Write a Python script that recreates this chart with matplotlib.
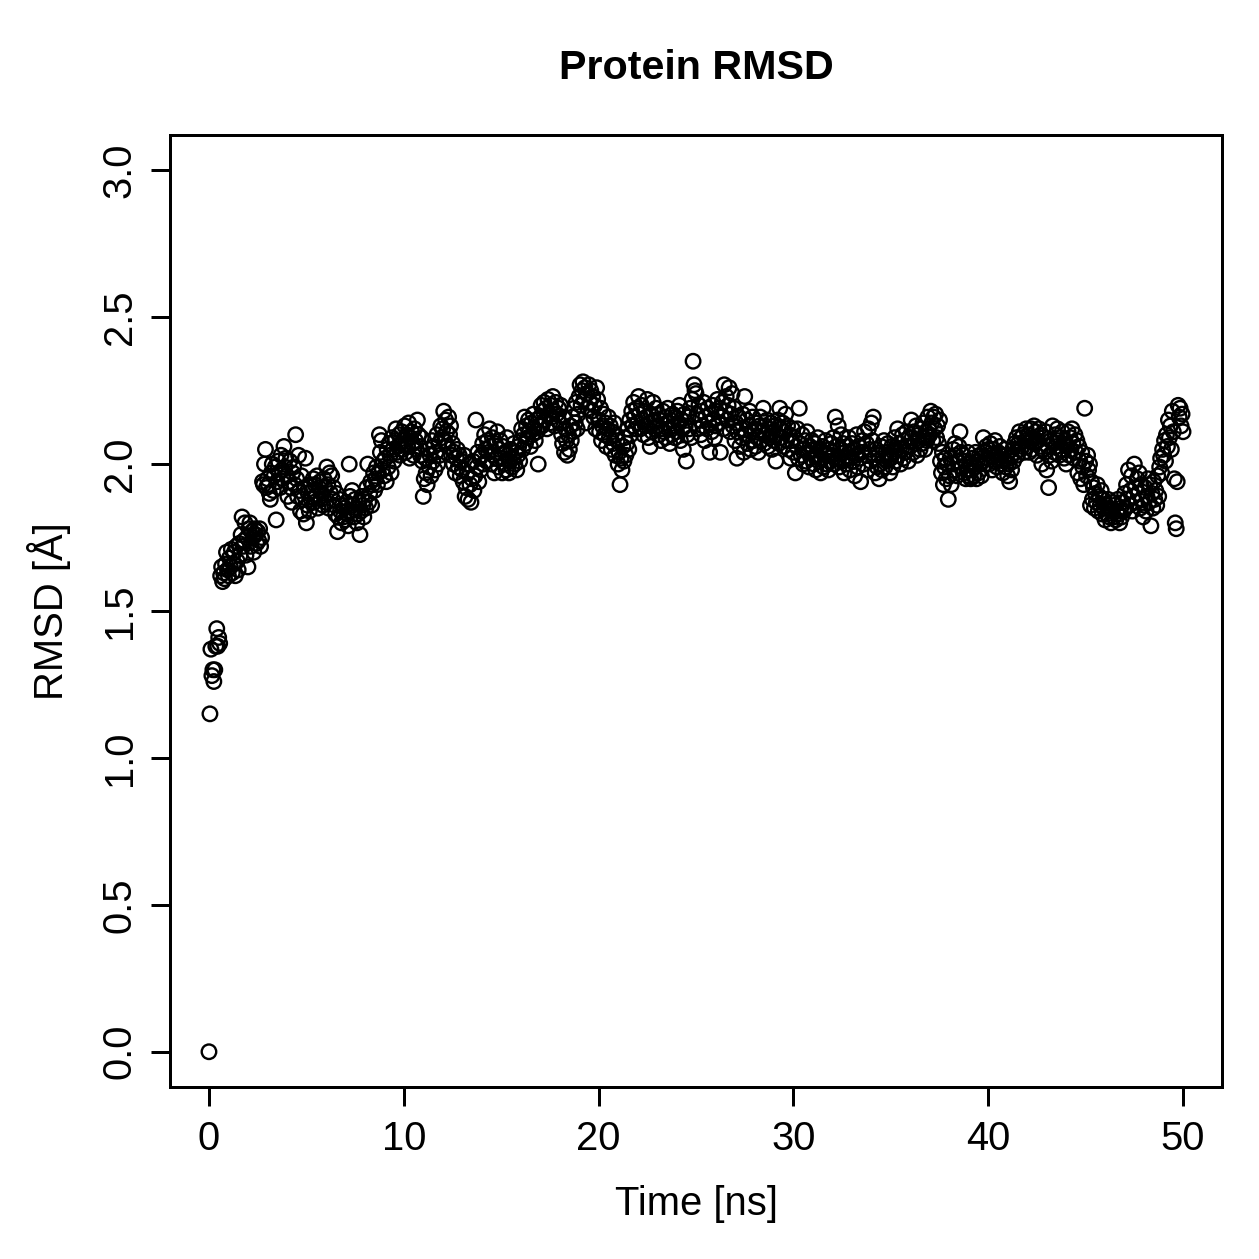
import numpy as np
import matplotlib
matplotlib.use("Agg")
import matplotlib.pyplot as plt

plt.rcParams['font.family'] = ['Liberation Sans', 'DejaVu Sans']

# RMSD values, one row per ns (0.05 ns steps)
rmsd_rows = [
    [0.00, 1.15, 1.37, 1.28, 1.30, 1.26, 1.30, 1.38, 1.44, 1.38, 1.41, 1.39, 1.62, 1.65, 1.60, 1.63, 1.61, 1.66, 1.70, 1.64],
    [1.62, 1.68, 1.65, 1.71, 1.63, 1.66, 1.70, 1.62, 1.72, 1.67, 1.64, 1.73, 1.69, 1.76, 1.82, 1.72, 1.74, 1.80, 1.69, 1.75],
    [1.65, 1.78, 1.80, 1.72, 1.77, 1.75, 1.70, 1.78, 1.76, 1.73, 1.77, 1.74, 1.78, 1.72, 1.75, 1.94, 1.93, 2.00, 2.05, 1.92],
    [1.95, 1.93, 1.90, 1.88, 1.97, 2.00, 1.91, 1.96, 1.99, 1.81, 1.94, 2.01, 1.97, 1.92, 2.03, 1.98, 1.95, 2.06, 1.99, 2.02],
    [1.96, 1.89, 1.94, 2.01, 1.92, 1.87, 1.97, 1.99, 1.93, 2.10, 1.95, 1.89, 2.03, 1.91, 1.84, 1.96, 1.88, 1.83, 1.92, 2.02],
    [1.80, 1.86, 1.90, 1.84, 1.93, 1.88, 1.91, 1.95, 1.87, 1.93, 1.89, 1.96, 1.85, 1.92, 1.94, 1.88, 1.90, 1.86, 1.95, 1.92],
    [1.87, 1.99, 1.93, 1.85, 1.97, 1.90, 1.96, 1.88, 1.92, 1.86, 1.83, 1.90, 1.77, 1.82, 1.88, 1.84, 1.80, 1.86, 1.82, 1.85],
    [1.81, 1.87, 1.83, 1.79, 2.00, 1.89, 1.84, 1.91, 1.86, 1.82, 1.88, 1.85, 1.80, 1.83, 1.87, 1.76, 1.84, 1.89, 1.86, 1.82],
    [1.88, 1.85, 1.92, 2.00, 1.87, 1.90, 1.94, 1.86, 1.93, 1.97, 1.91, 1.95, 1.99, 1.93, 1.97, 2.10, 2.04, 2.08, 1.98, 2.01],
    [1.96, 2.02, 1.94, 2.05, 1.99, 2.07, 2.03, 1.97, 2.09, 2.05, 2.01, 2.08, 2.12, 2.04, 2.06, 2.10, 2.03, 2.07, 2.11, 2.05],
    [2.08, 2.13, 2.04, 2.10, 2.06, 2.14, 2.02, 2.09, 2.11, 2.07, 2.03, 2.12, 2.08, 2.05, 2.15, 2.10, 2.06, 2.03, 2.09, 2.01],
    [1.89, 1.95, 2.02, 1.97, 1.93, 2.05, 1.99, 2.03, 1.96, 2.08, 2.01, 2.06, 1.98, 2.04, 2.10, 2.00, 2.07, 2.03, 2.13, 2.09],
    [2.12, 2.18, 2.08, 2.15, 2.11, 2.06, 2.16, 2.10, 2.13, 2.03, 2.07, 2.00, 2.04, 1.97, 2.02, 2.05, 1.99, 2.03, 1.96, 2.01],
    [1.98, 1.94, 2.03, 1.89, 1.92, 1.97, 1.88, 2.00, 1.93, 1.87, 1.95, 2.01, 1.91, 1.96, 2.15, 1.99, 2.04, 1.94, 2.02, 1.98],
    [2.03, 2.07, 2.00, 2.10, 2.05, 2.01, 2.08, 2.04, 2.12, 2.06, 2.00, 2.09, 2.03, 1.97, 2.07, 2.02, 2.11, 1.99, 2.05, 2.08],
    [2.02, 1.97, 2.06, 2.00, 2.04, 1.98, 2.09, 2.03, 1.97, 2.01, 2.05, 1.99, 2.02, 2.07, 2.00, 2.04, 1.98, 2.03, 2.06, 2.01],
    [2.08, 2.12, 2.05, 2.10, 2.16, 2.07, 2.13, 2.09, 2.15, 2.11, 2.06, 2.14, 2.10, 2.17, 2.12, 2.08, 2.15, 2.11, 2.00, 2.13],
    [2.16, 2.20, 2.13, 2.18, 2.21, 2.15, 2.19, 2.12, 2.22, 2.17, 2.14, 2.20, 2.16, 2.23, 2.18, 2.13, 2.21, 2.17, 2.15, 2.19],
    [2.14, 2.20, 2.10, 2.07, 2.16, 2.04, 2.12, 2.08, 2.03, 2.10, 2.05, 2.13, 2.08, 2.16, 2.11, 2.19, 2.14, 2.21, 2.12, 2.17],
    [2.23, 2.27, 2.20, 2.25, 2.28, 2.22, 2.26, 2.14, 2.24, 2.19, 2.27, 2.21, 2.25, 2.18, 2.23, 2.16, 2.20, 2.12, 2.26, 2.22],
    [2.15, 2.11, 2.19, 2.08, 2.13, 2.17, 2.10, 2.14, 2.06, 2.12, 2.16, 2.09, 2.13, 2.05, 2.11, 2.07, 2.14, 2.03, 2.10, 2.08],
    [2.00, 2.04, 1.93, 2.02, 1.98, 2.06, 2.01, 2.09, 2.03, 2.07, 2.12, 2.05, 2.15, 2.10, 2.18, 2.13, 2.21, 2.16, 2.12, 2.19],
    [2.14, 2.23, 2.17, 2.12, 2.20, 2.15, 2.10, 2.18, 2.13, 2.16, 2.22, 2.09, 2.14, 2.06, 2.17, 2.11, 2.21, 2.15, 2.12, 2.19],
    [2.13, 2.17, 2.10, 2.15, 2.08, 2.12, 2.18, 2.11, 2.16, 2.09, 2.14, 2.19, 2.12, 2.07, 2.15, 2.10, 2.17, 2.13, 2.09, 2.16],
    [2.11, 2.18, 2.14, 2.20, 2.08, 2.15, 2.12, 2.05, 2.17, 2.13, 2.01, 2.10, 2.16, 2.12, 2.19, 2.09, 2.22, 2.35, 2.27, 2.25],
    [2.24, 2.17, 2.12, 2.20, 2.15, 2.10, 2.18, 2.13, 2.21, 2.08, 2.16, 2.12, 2.19, 2.14, 2.04, 2.17, 2.11, 2.20, 2.15, 2.09],
    [2.13, 2.18, 2.22, 2.14, 2.19, 2.04, 2.16, 2.21, 2.12, 2.27, 2.18, 2.23, 2.15, 2.20, 2.26, 2.11, 2.17, 2.24, 2.13, 2.19],
    [2.08, 2.14, 2.02, 2.11, 2.16, 2.06, 2.12, 2.09, 2.17, 2.04, 2.23, 2.10, 2.15, 2.07, 2.13, 2.18, 2.05, 2.11, 2.16, 2.08],
    [2.12, 2.06, 2.14, 2.09, 2.04, 2.13, 2.16, 2.08, 2.11, 2.19, 2.07, 2.13, 2.10, 2.15, 2.06, 2.12, 2.09, 2.14, 2.05, 2.11],
    [2.08, 2.13, 2.01, 2.10, 2.15, 2.07, 2.19, 2.12, 2.09, 2.14, 2.06, 2.11, 2.17, 2.08, 2.13, 2.05, 2.10, 2.02, 2.08, 2.12],
    [2.04, 2.09, 1.97, 2.06, 2.12, 2.02, 2.19, 2.07, 2.03, 2.10, 2.00, 2.05, 2.08, 2.01, 2.11, 2.04, 1.99, 2.06, 2.02, 2.08],
    [2.05, 2.00, 2.07, 1.98, 2.03, 2.09, 2.01, 2.05, 1.97, 2.02, 2.06, 1.99, 2.04, 2.08, 2.00, 2.03, 1.98, 2.05, 2.01, 2.07],
    [2.03, 2.09, 2.00, 2.16, 2.06, 2.02, 2.13, 1.99, 2.05, 2.10, 2.01, 2.07, 1.97, 2.04, 2.00, 2.06, 2.02, 2.09, 1.98, 2.04],
    [2.07, 2.01, 2.05, 1.96, 2.03, 2.10, 1.99, 2.06, 2.02, 1.94, 2.04, 2.08, 2.00, 2.11, 2.03, 2.07, 1.98, 2.12, 2.05, 2.01],
    [2.14, 2.08, 2.16, 2.02, 1.97, 2.05, 1.99, 2.03, 1.95, 2.00, 2.06, 1.98, 2.02, 2.08, 1.99, 2.04, 2.01, 2.07, 2.03, 1.97],
    [2.02, 2.06, 1.99, 2.04, 2.09, 2.01, 2.05, 2.12, 2.03, 2.07, 2.00, 2.05, 2.10, 2.02, 2.08, 2.04, 2.11, 2.06, 2.01, 2.09],
    [2.06, 2.15, 2.09, 2.04, 2.11, 2.07, 2.13, 2.03, 2.08, 2.10, 2.05, 2.12, 2.07, 2.14, 2.09, 2.05, 2.11, 2.08, 2.16, 2.12],
    [2.10, 2.18, 2.14, 2.08, 2.16, 2.12, 2.17, 2.09, 2.13, 2.07, 2.15, 2.01, 1.97, 2.04, 1.93, 1.99, 2.02, 1.95, 2.00, 1.88],
    [1.96, 2.02, 1.93, 2.00, 2.05, 1.98, 2.07, 2.03, 1.96, 2.01, 2.06, 2.11, 2.04, 1.99, 2.03, 1.97, 2.01, 1.95, 1.98, 2.04],
    [1.96, 2.00, 1.95, 1.98, 2.02, 1.96, 1.99, 2.04, 1.95, 2.01, 1.97, 2.03, 2.00, 1.96, 2.02, 2.09, 2.04, 2.00, 2.06, 2.02],
    [2.05, 2.00, 2.07, 2.03, 1.98, 2.05, 2.01, 2.08, 2.03, 1.99, 2.04, 2.02, 2.06, 2.00, 2.03, 1.97, 2.01, 2.05, 1.99, 2.03],
    [1.96, 2.00, 1.94, 2.02, 1.98, 2.05, 2.01, 2.07, 2.04, 2.09, 2.03, 2.07, 2.11, 2.05, 2.09, 2.06, 2.10, 2.04, 2.08, 2.12],
    [2.06, 2.10, 2.04, 2.08, 2.12, 2.05, 2.09, 2.13, 2.07, 2.11, 2.03, 2.08, 2.12, 2.06, 2.10, 2.00, 2.05, 2.09, 2.04, 2.11],
    [1.98, 2.06, 1.92, 2.03, 2.08, 2.01, 2.13, 2.07, 2.04, 2.10, 2.06, 2.12, 2.08, 2.03, 2.09, 2.05, 2.11, 2.07, 2.02, 2.08],
    [2.00, 2.06, 2.11, 2.03, 2.09, 2.05, 2.12, 2.07, 2.02, 2.10, 2.04, 2.08, 1.97, 2.06, 2.01, 1.95, 2.04, 1.99, 1.93, 2.19],
    [2.01, 1.96, 2.03, 1.98, 2.00, 1.86, 1.94, 1.88, 1.92, 1.85, 1.90, 1.87, 1.93, 1.84, 1.89, 1.86, 1.91, 1.83, 1.88, 1.85],
    [1.81, 1.86, 1.83, 1.88, 1.82, 1.85, 1.80, 1.84, 1.87, 1.82, 1.86, 1.81, 1.84, 1.88, 1.83, 1.80, 1.85, 1.82, 1.87, 1.84],
    [1.90, 1.85, 1.93, 1.88, 1.98, 1.86, 1.91, 1.96, 1.84, 1.89, 2.00, 1.92, 1.87, 1.95, 1.90, 1.97, 1.85, 1.93, 1.88, 1.82],
    [1.86, 1.92, 1.84, 1.89, 1.95, 1.87, 1.93, 1.79, 1.90, 1.85, 1.94, 1.88, 1.91, 1.86, 1.96, 1.89, 1.99, 2.02, 1.97, 2.05],
    [2.03, 2.08, 2.01, 2.10, 2.06, 2.15, 2.09, 2.13, 2.05, 2.18, 2.11, 1.95, 1.80, 1.78, 1.94, 2.20, 2.16, 2.19, 2.13, 2.17],
    [2.11],
]
rmsd = np.concatenate([np.array(r) for r in rmsd_rows])
time_ns = np.arange(len(rmsd)) * 0.05

x_ticks = [0, 10, 20, 30, 40, 50]
y_ticks = [0.0, 0.5, 1.0, 1.5, 2.0, 2.5, 3.0]

dpi = 180
W = 1259
fig = plt.figure(figsize=(W / dpi, W / dpi), dpi=dpi)
ax = fig.add_axes([170 / W, 1 - 1087 / W, (1222 - 170) / W, (1087 - 135) / W])

ax.scatter(time_ns, rmsd, s=5.8 ** 2, facecolors='none', edgecolors='black', linewidths=0.95)

ax.set_xlim(-2, 52)
ax.set_ylim(-0.12, 3.12)
ax.set_xticks(x_ticks)
ax.set_xticklabels([str(v) for v in x_ticks])
ax.set_yticks(y_ticks)
ax.set_yticklabels([f"{v:.1f}" for v in y_ticks], rotation=90, va='center')
ax.tick_params(axis='both', direction='out', length=7.5, width=1.2, labelsize=16)
ax.tick_params(axis='x', pad=5.5)
ax.tick_params(axis='y', pad=5)
for sp in ax.spines.values():
    sp.set_linewidth(1.2)

cx = 0.5 * (170 + 1222) / W
fig.text(cx, 1 - 79 / W, "Protein RMSD", ha='center', va='baseline',
         fontsize=16.5, fontweight='bold')
fig.text(cx, 1 - 1215 / W, "Time [ns]", ha='center', va='baseline', fontsize=16)
fig.text(63 / W, 1 - 0.5 * (135 + 1087) / W, "RMSD [Å]", ha='center', va='baseline',
         rotation=90, rotation_mode='anchor', fontsize=16)

fig.savefig("out.png", dpi=dpi)
